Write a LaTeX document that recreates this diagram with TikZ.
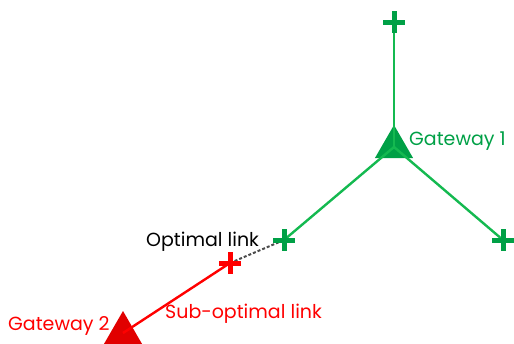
\documentclass[tikz,border=0pt]{standalone}
\usepackage{fontspec}
\setmainfont{Poppins}
\usetikzlibrary{shapes.geometric}
\definecolor{gline}{RGB}{20,185,80}
\definecolor{gtri}{RGB}{0,160,70}
\definecolor{rline}{RGB}{255,0,0}
\definecolor{rtri}{RGB}{225,0,0}
\tikzset{
  x=1pt, y=-1pt,
  tri/.style={regular polygon, regular polygon sides=3, minimum size=44pt, inner sep=0pt},
  glink/.style={draw=gline, line width=2.4pt},
  rlink/.style={draw=rline, line width=2.4pt},
  dlink/.style={draw=black!70, line width=2pt, dash pattern=on 3pt off 2pt},
  lbl/.style={font=\fontsize{19}{22}\selectfont, inner sep=0pt},
  plusmark/.pic={\draw[line width=5pt, #1] (-11,0) -- (11,0) (0,-11) -- (0,11);}
}
\begin{document}
\begin{tikzpicture}
\useasboundingbox (0,0) rectangle (514,343);
\node[tri, fill=gtri] (g1) at (394,147) {};
\node[tri, fill=rtri] (g2) at (123,333) {};
\coordinate (pt) at (394,22);
\coordinate (pl) at (284,240);
\coordinate (pr) at (503,240);
\coordinate (pred) at (230,263);
\draw[glink] (g1.center) -- (pt);
\draw[glink] (g1.center) -- (pl);
\draw[glink] (g1.center) -- (pr);
\draw[rlink] (pred) -- (g2.center);
\draw[dlink] (pred) -- (pl);
\pic at (pt) {plusmark=gtri};
\pic at (pl) {plusmark=gtri};
\pic at (pr) {plusmark=gtri};
\pic at (pred) {plusmark=rline};
\node[lbl, text=gtri, anchor=west] (t1) at (409,141) {Gateway 1};
\node[lbl, text=black, anchor=west] (t2) at (146,242) {Optimal link};
\node[lbl, text=rline, anchor=west] (t3) at (8,326) {Gateway 2};
\node[lbl, text=rline, anchor=west] (t4) at (165,314) {Sub-optimal link};
\end{tikzpicture}
\end{document}
